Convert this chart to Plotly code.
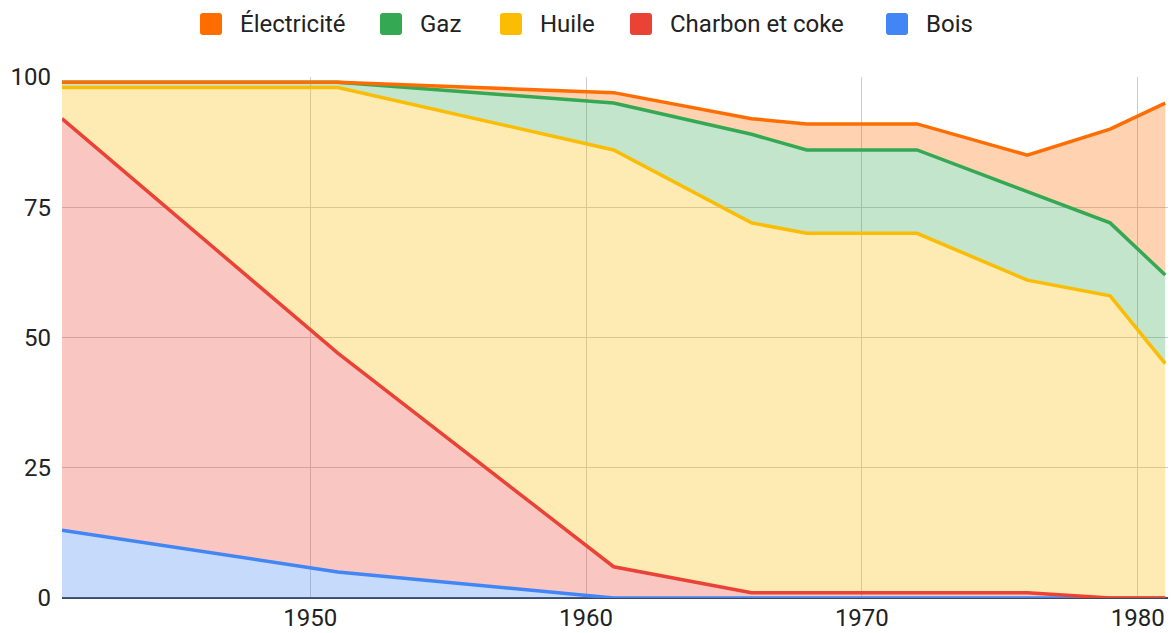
import plotly.graph_objects as go

# Years of the survey points
years = [1941, 1951, 1961, 1966, 1968, 1972, 1976, 1979, 1981]

# Share of each energy source (%), stacked bottom to top
bois = [13, 5, 0, 0, 0, 0, 0, 0, 0]
charbon = [79, 42, 6, 1, 1, 1, 1, 0, 0]
huile = [6, 51, 80, 71, 69, 69, 60, 58, 45]
gaz = [1, 1, 9, 17, 16, 16, 17, 14, 17]
electricite = [0, 0, 2, 3, 5, 5, 7, 18, 33]

series = [
    ("Bois", bois, "#4285f4", "rgba(66,133,244,0.30)"),
    ("Charbon et coke", charbon, "#ea4335", "rgba(234,67,53,0.30)"),
    ("Huile", huile, "#fbbc04", "rgba(251,188,4,0.30)"),
    ("Gaz", gaz, "#34a853", "rgba(52,168,83,0.30)"),
    ("Électricité", electricite, "#ff6d01", "rgba(255,109,1,0.30)"),
]

x_ticks = [1950, 1960, 1970, 1980]
y_ticks = [0, 25, 50, 75, 100]

FONT = "Roboto, Arial, sans-serif"
FS = 24
W, H = 1172, 633
M = dict(l=62, r=4, t=77, b=35)
PW = W - M["l"] - M["r"]
PH = H - M["t"] - M["b"]


def px_x(px):
    """Pixel column -> paper x."""
    return (px - M["l"]) / PW


def px_y(py):
    """Pixel row -> paper y."""
    return (H - M["b"] - py) / PH


fig = go.Figure()

for name, values, line_color, fill_color in series:
    fig.add_trace(go.Scatter(
        x=years, y=values, name=name, mode="lines",
        stackgroup="energie",
        line=dict(color=line_color, width=3.5),
        fillcolor=fill_color,
        showlegend=False,
        hoverinfo="x+y+name",
    ))

# Legend drawn as rounded swatches with labels, top of stack first
legend_left = [200, 380, 500, 630, 886]   # swatch left edge (px)
sw, sh, r = 22, 22, 3
cy = 24
shapes = []
annotations = []
for (name, values, line_color, fill_color), lx in zip(reversed(series), legend_left):
    x0, x1 = lx, lx + sw
    y0, y1 = cy - sh / 2, cy + sh / 2
    pts = [
        f"M {px_x(x0 + r)},{px_y(y0)}",
        f"L {px_x(x1 - r)},{px_y(y0)}",
        f"Q {px_x(x1)},{px_y(y0)} {px_x(x1)},{px_y(y0 + r)}",
        f"L {px_x(x1)},{px_y(y1 - r)}",
        f"Q {px_x(x1)},{px_y(y1)} {px_x(x1 - r)},{px_y(y1)}",
        f"L {px_x(x0 + r)},{px_y(y1)}",
        f"Q {px_x(x0)},{px_y(y1)} {px_x(x0)},{px_y(y1 - r)}",
        f"L {px_x(x0)},{px_y(y0 + r)}",
        f"Q {px_x(x0)},{px_y(y0)} {px_x(x0 + r)},{px_y(y0)}",
        "Z",
    ]
    shapes.append(dict(
        type="path", xref="paper", yref="paper", path=" ".join(pts),
        fillcolor=line_color, line=dict(width=0), layer="above",
    ))
    annotations.append(dict(
        x=px_x(x1 + 16), y=px_y(cy), xref="paper", yref="paper",
        text=name, showarrow=False, xanchor="left", yanchor="middle",
        font=dict(family=FONT, size=FS, color="#222222"),
    ))

fig.update_layout(
    width=W, height=H,
    margin=M,
    paper_bgcolor="white", plot_bgcolor="white",
    font=dict(family=FONT, size=FS, color="#222222"),
    showlegend=False,
    shapes=shapes,
    annotations=annotations,
    xaxis=dict(
        range=[1941, 1981.1], tickvals=x_ticks,
        showgrid=True, gridcolor="#cccccc", gridwidth=1,
        zeroline=False, showline=False, ticks="",
        tickfont=dict(size=FS, color="#222222"),
        ticklabelstandoff=3, automargin=False,
    ),
    yaxis=dict(
        range=[0, 100], tickvals=y_ticks,
        showgrid=True, gridcolor="#cccccc", gridwidth=1,
        zeroline=True, zerolinecolor="#3c4a5c", zerolinewidth=2,
        showline=False, ticks="",
        tickfont=dict(size=FS, color="#222222"),
        ticklabelstandoff=10, automargin=False,
    ),
)

fig.write_html("out.html")
